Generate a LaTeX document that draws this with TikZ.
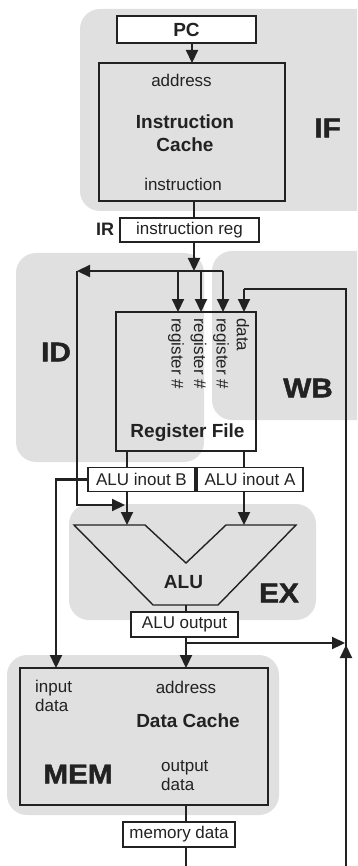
\documentclass[tikz,border=0pt]{standalone}
\usepackage{fontspec}
\setmainfont{Liberation Sans}
\newfontfamily\stagefont[BoldFeatures={FakeBold=1.6}]{Liberation Sans}
\usetikzlibrary{arrows.meta}
\definecolor{regiongrey}{HTML}{E0E0E0}
\definecolor{ink}{HTML}{222222}
\newcommand{\txtreg}{\fontsize{17}{19}\selectfont}
\newcommand{\txtbold}{\fontsize{19}{23}\selectfont\bfseries}
\newcommand{\txtboldsmall}{\fontsize{18}{20}\selectfont\bfseries}
\newcommand{\stagelab}[1]{\scalebox{1.1}[1]{\fontsize{27}{27}\stagefont\bfseries #1}}
\begin{document}
\begin{tikzpicture}[x=1pt,y=-1pt,
 region/.style={fill=regiongrey,rounded corners=20pt},
 blk/.style={draw=ink,line width=1.4pt,inner sep=0pt,outer sep=0pt,text=ink,font=\txtreg},
 conn/.style={draw=ink,line width=2.2pt},
 arr/.style={conn,-{Triangle[length=13pt,width=12pt]}},
 lbl/.style={text=ink,inner sep=0pt,font=\txtreg},
 ttl/.style={text=ink,inner sep=0pt,font=\txtbold},
 stage/.style={text=ink,inner sep=0pt}]
\useasboundingbox (0,0) rectangle (357,866);
\begin{scope}
\clip (0,0) rectangle (357,866);
\fill[region] (80,9) rectangle (390,211);
\fill[region] (16,253) rectangle (204,462);
\fill[region] (212,251) rectangle (390,420);
\fill[region] (69,504) rectangle (316,620);
\fill[region] (7,655) rectangle (279,815);
\end{scope}

% IF stage
\node[blk,fill=white,minimum width=139pt,minimum height=27pt,font=\txtbold] (pc) at (186.5,29.5) {PC};
\node[blk,fill=regiongrey,minimum width=186pt,minimum height=138pt] (ic) at (192,132) {};
\node[lbl] (icaddr) at (181.5,80) {address};
\node[ttl,align=center] (icname) at (185,133.5) {Instruction\\Cache};
\node[lbl] (icinst) at (183,184) {instruction};
\node[stage] (iflab) at (327.5,128) {\stagelab{IF}};
\draw[arr] (ic.north |- pc.south) -- (ic.north);

\coordinate (busx) at (194,0);
\node[blk,fill=white,minimum width=139pt,minimum height=24pt] (ir) at (189.5,230) {instruction reg};
\node[ttl,font=\txtboldsmall] (irlbl) at (105,229) {IR};
\draw[conn] (ic.south -| busx) -- (ir.north -| busx);
\coordinate (jn) at (194,271);
\draw[arr] (ir.south -| busx) -- (jn);

% ID stage
\coordinate (fbl) at (77,271);
\coordinate (fbr) at (223,271);
\draw[arr] (fbr) -- (fbl);
\coordinate (immB) at (77,505);
\coordinate (immT) at (125,505);
\draw[arr] (fbl) -- (immB) -- (immT);

\node[blk,minimum width=140pt,minimum height=139pt] (rf) at (186,381.5) {};
\coordinate (r1) at (178,271);
\coordinate (r2) at (201,271);
\coordinate (r3) at (223,271);
\draw[arr] (r1) -- (rf.north -| r1);
\draw[arr] (r2) -- (rf.north -| r2);
\draw[arr] (r3) -- (rf.north -| r3);
\node[lbl,rotate=-90,anchor=west] (l1) at (176,318) {register \#};
\node[lbl,rotate=-90,anchor=west] (l2) at (198.5,318) {register \#};
\node[lbl,rotate=-90,anchor=west] (l3) at (221,318) {register \#};
\node[lbl,rotate=-90,anchor=west] (l4) at (243,318) {data};
\node[ttl] (rfname) at (187.5,433) {Register File};
\node[stage] (idlab) at (56,352) {\stagelab{ID}};
\node[stage] (wblab) at (308,388) {\stagelab{WB}};

% write back path
\coordinate (wbb) at (346,866);
\coordinate (wbt) at (346,289);
\coordinate (wbd) at (244,289);
\coordinate (wbm) at (346,645);
\draw[conn] (wbb) -- (wbt) -- (wbd);
\draw[arr] (wbd) -- (rf.north -| wbd);
\draw[arr] (wbb) -- (wbm);

% EX stage
\node[blk,fill=white,minimum width=107pt,minimum height=24pt] (inb) at (141.5,479.5) {ALU inout B};
\node[blk,fill=white,minimum width=106pt,minimum height=24pt] (ina) at (250,479.5) {ALU inout A};
\coordinate (ba) at (127,0);
\coordinate (aa) at (244,0);
\draw[conn] (rf.south -| ba) -- (inb.north -| ba);
\draw[conn] (rf.south -| aa) -- (ina.north -| aa);
\draw[draw=ink,line width=1.4pt,line join=miter] (74,525) -- (145,525) -- (186,563) -- (226,525) -- (296,525) -- (218,605) -- (153,605) -- cycle;
\coordinate (alub) at (127,525);
\coordinate (alua) at (244,525);
\draw[arr] (inb.south -| ba) -- (alub);
\draw[arr] (ina.south -| aa) -- (alua);
\node[ttl] (alu) at (183.5,582) {ALU};
\node[stage] (exlab) at (279,593) {\stagelab{EX}};
\coordinate (alubot) at (186,605);
\node[blk,fill=white,minimum width=107pt,minimum height=25pt] (aluo) at (184.5,624.5) {ALU output};
\draw[conn] (alubot) -- (aluo.north -| alubot);

% MEM stage
\node[blk,fill=regiongrey,minimum width=248pt,minimum height=137pt] (dc) at (144,736.5) {};
\coordinate (outx) at (186,0);
\coordinate (fwd) at (186,643);
\coordinate (fwde) at (345,643);
\draw[conn] (aluo.south -| outx) -- (fwd);
\draw[arr] (fwd) -- (dc.north -| outx);
\draw[arr] (fwd) -- (fwde);
\coordinate (memx) at (56,0);
\draw[arr] (inb.west) -| (dc.north -| memx);
\node[lbl,align=left,anchor=west] (dcin) at (35,696) {input\\data};
\node[lbl] (dcaddr) at (186,687) {address};
\node[ttl] (dcname) at (188,721) {Data Cache};
\node[lbl,align=left,anchor=west] (dcout) at (161,776) {output\\data};
\node[stage] (memlab) at (78,774) {\stagelab{MEM}};

\node[blk,fill=white,minimum width=112pt,minimum height=25pt] (md) at (179,834.5) {memory data};
\draw[conn] (dc.south -| outx) -- (md.north -| outx);
\coordinate (mdend) at (186,866);
\draw[conn] (md.south -| outx) -- (mdend);
\end{tikzpicture}
\end{document}
